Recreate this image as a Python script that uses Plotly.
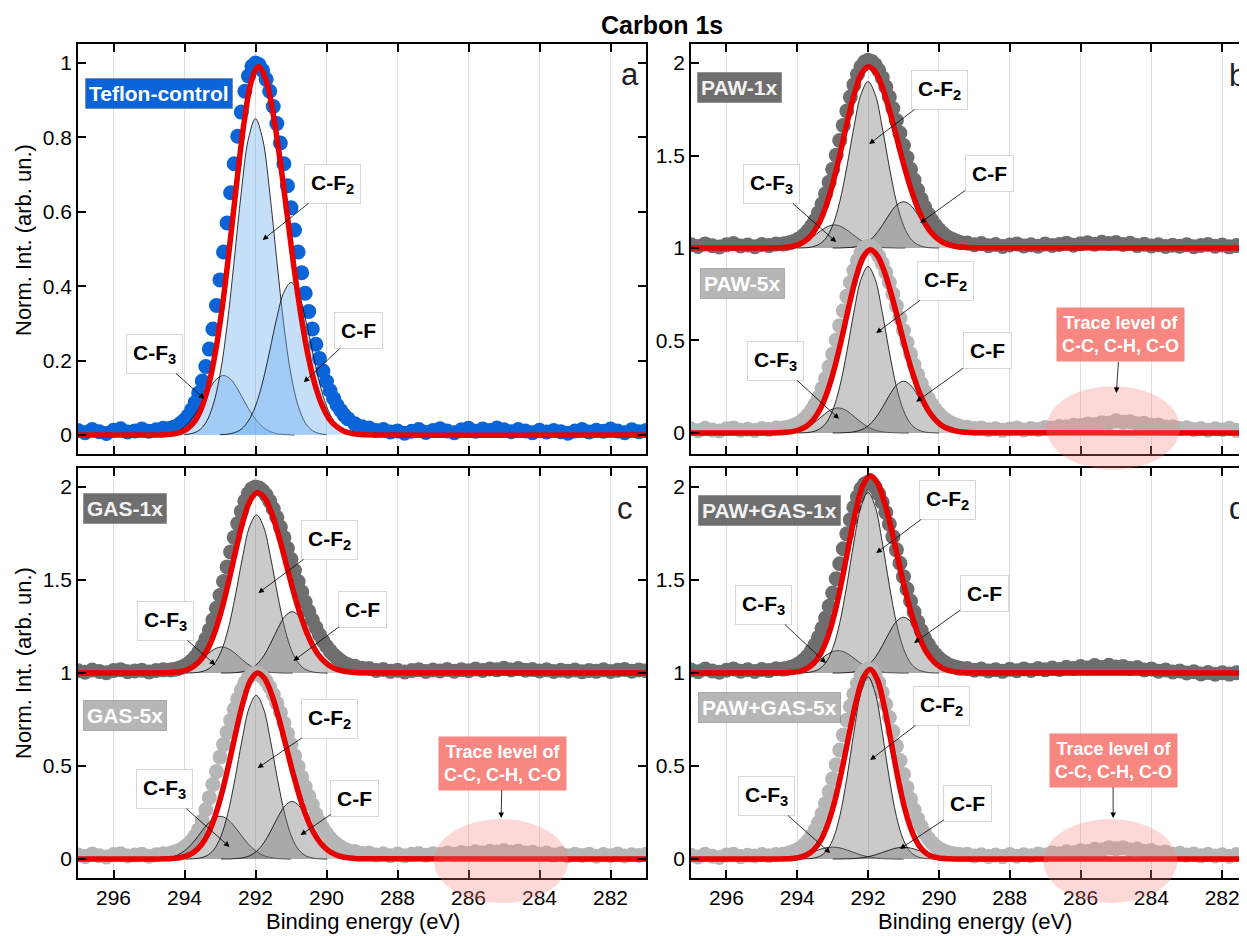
import plotly.graph_objects as go

# The page body adds an 8 px margin, so the figure is sized to the visible area
PAGE_OFF = 8
FW, FH = 1247 - PAGE_OFF, 936 - PAGE_OFF
FONT = "Arial, Liberation Sans, sans-serif"


def px_x(X):
    return (X - PAGE_OFF) / FW


def px_y(Y):
    return 1 - (Y - PAGE_OFF) / FH


# ------------------------------------------------------------------
# DATA
# Measured spectra: three segments per spectrum
#   *_BASE_L : 297.0 -> 294.6 eV, 0.2 eV step
#   *_PEAK   : 294.4 -> 289.4 eV, 0.1 eV step
#   *_BASE_R : 289.2 -> 281.0 eV, 0.2 eV step
# ------------------------------------------------------------------
TICK_E = [296, 294, 292, 290, 288, 286, 284, 282]
TICK_E_TEXT = ["296", "294", "292", "290", "288", "286", "284", "282"]
Y_TICKS_A = [0, 0.2, 0.4, 0.6, 0.8, 1]
Y_TICKS_A_TEXT = ["0", "0.2", "0.4", "0.6", "0.8", "1"]
Y_TICKS_BCD = [0, 0.5, 1, 1.5, 2]
Y_TICKS_BCD_TEXT = ["0", "0.5", "1", "1.5", "2"]

A_BASE_L = [0.012, 0.006, 0.015, 0.009, 0.004, 0.013, 0.017, 0.008, 0.011, 0.016, 0.010, 0.014, 0.018]
A_PEAK = [0.018, 0.021, 0.025, 0.032, 0.040, 0.052, 0.068, 0.087, 0.113, 0.145, 0.184, 0.231, 0.285,
          0.348, 0.417, 0.492, 0.570, 0.651, 0.729, 0.803, 0.868, 0.924, 0.965, 0.991, 1.000,
          0.995, 0.980, 0.956, 0.924, 0.883, 0.837, 0.785, 0.729, 0.670, 0.611, 0.551, 0.492, 0.436,
          0.381, 0.332, 0.285, 0.244, 0.206, 0.172, 0.144, 0.119, 0.098, 0.080, 0.066, 0.053, 0.044]
A_BASE_R = [0.030, 0.022, 0.019, 0.012, 0.015, 0.008, 0.011, 0.005, 0.010, 0.015, 0.007, 0.012, 0.017, 0.011,
            0.006, 0.014, 0.018, 0.010, 0.016, 0.012, 0.019, 0.014, 0.009, 0.015, 0.011, 0.006, 0.013, 0.008,
            0.012, 0.009, 0.005, 0.011, 0.015, 0.008, 0.013, 0.010, 0.016, 0.011, 0.006, 0.014, 0.009, 0.012]

B1_BASE_L = [1.018, 1.008, 1.022, 1.012, 1.005, 1.017, 1.024, 1.011, 1.016, 1.007, 1.019, 1.013, 1.021]
B1_PEAK = [1.021, 1.024, 1.029, 1.035, 1.044, 1.055, 1.071, 1.092, 1.118, 1.150, 1.190, 1.238, 1.293,
           1.356, 1.426, 1.502, 1.581, 1.662, 1.741, 1.816, 1.882, 1.938, 1.980, 2.006, 2.015,
           2.009, 1.991, 1.961, 1.921, 1.872, 1.816, 1.754, 1.689, 1.622, 1.554, 1.489, 1.426, 1.367,
           1.313, 1.264, 1.221, 1.183, 1.150, 1.123, 1.100, 1.081, 1.065, 1.053, 1.044, 1.036, 1.030]
B1_BASE_R = [1.027, 1.018, 1.024, 1.012, 1.019, 1.008, 1.016, 1.022, 1.011, 1.017, 1.009, 1.021, 1.014, 1.019,
             1.026, 1.015, 1.023, 1.028, 1.020, 1.031, 1.024, 1.029, 1.019, 1.025, 1.013, 1.020, 1.011, 1.017,
             1.008, 1.015, 1.010, 1.018, 1.007, 1.014, 1.019, 1.009, 1.016, 1.006, 1.013, 1.018, 1.010, 1.015]

B5_BASE_L = [0.021, 0.012, 0.025, 0.016, 0.010, 0.022, 0.027, 0.015, 0.020, 0.013, 0.024, 0.018, 0.026]
B5_PEAK = [0.026, 0.029, 0.033, 0.040, 0.048, 0.060, 0.076, 0.096, 0.122, 0.154, 0.193, 0.241, 0.295,
           0.358, 0.427, 0.502, 0.580, 0.661, 0.739, 0.813, 0.878, 0.934, 0.975, 1.001, 1.010,
           1.004, 0.986, 0.957, 0.917, 0.868, 0.813, 0.752, 0.687, 0.621, 0.554, 0.489, 0.427, 0.368,
           0.315, 0.267, 0.224, 0.186, 0.154, 0.127, 0.104, 0.085, 0.070, 0.058, 0.048, 0.041, 0.035]
B5_BASE_R = [0.031, 0.024, 0.027, 0.017, 0.023, 0.014, 0.021, 0.026, 0.016, 0.024, 0.019, 0.029, 0.027, 0.035,
             0.033, 0.041, 0.040, 0.048, 0.046, 0.055, 0.054, 0.066, 0.058, 0.060, 0.050, 0.052, 0.041, 0.043,
             0.032, 0.034, 0.024, 0.028, 0.018, 0.024, 0.015, 0.022, 0.017, 0.025, 0.014, 0.021, 0.016, 0.023]

C1_BASE_L = [1.012, 1.004, 1.016, 1.008, 1.002, 1.013, 1.018, 1.007, 1.011, 1.015, 1.006, 1.014, 1.017]
C1_PEAK = [1.016, 1.019, 1.023, 1.030, 1.038, 1.050, 1.066, 1.086, 1.112, 1.144, 1.183, 1.231, 1.285,
           1.348, 1.417, 1.492, 1.570, 1.651, 1.729, 1.803, 1.868, 1.924, 1.965, 1.991, 2.000,
           1.995, 1.980, 1.956, 1.924, 1.883, 1.837, 1.785, 1.729, 1.670, 1.611, 1.551, 1.492, 1.436,
           1.381, 1.332, 1.285, 1.244, 1.206, 1.172, 1.144, 1.119, 1.098, 1.080, 1.066, 1.053, 1.044]
C1_BASE_R = [1.036, 1.026, 1.024, 1.014, 1.019, 1.009, 1.015, 1.006, 1.013, 1.018, 1.008, 1.016, 1.011, 1.019,
             1.010, 1.018, 1.012, 1.021, 1.014, 1.022, 1.017, 1.026, 1.016, 1.024, 1.015, 1.019, 1.011, 1.017,
             1.008, 1.015, 1.010, 1.016, 1.007, 1.014, 1.009, 1.017, 1.008, 1.015, 1.019, 1.010, 1.016, 1.012]

C5_BASE_L = [0.022, 0.013, 0.027, 0.018, 0.011, 0.024, 0.029, 0.016, 0.021, 0.026, 0.015, 0.023, 0.028]
C5_PEAK = [0.031, 0.036, 0.042, 0.051, 0.063, 0.078, 0.098, 0.125, 0.158, 0.205, 0.265, 0.330, 0.400,
           0.470, 0.548, 0.615, 0.681, 0.744, 0.805, 0.860, 0.908, 0.947, 0.976, 0.994, 1.000,
           0.995, 0.980, 0.957, 0.925, 0.884, 0.838, 0.787, 0.731, 0.674, 0.615, 0.555, 0.497, 0.441,
           0.388, 0.339, 0.292, 0.240, 0.200, 0.167, 0.138, 0.113, 0.093, 0.077, 0.064, 0.054, 0.046]
C5_BASE_R = [0.040, 0.031, 0.033, 0.022, 0.028, 0.018, 0.027, 0.017, 0.025, 0.030, 0.020, 0.029, 0.024, 0.032,
             0.026, 0.035, 0.030, 0.039, 0.033, 0.042, 0.038, 0.046, 0.037, 0.043, 0.032, 0.037, 0.026, 0.032,
             0.021, 0.028, 0.017, 0.025, 0.019, 0.026, 0.015, 0.024, 0.018, 0.027, 0.016, 0.023, 0.019, 0.025]

D1_BASE_L = [1.016, 1.007, 1.021, 1.011, 1.004, 1.015, 1.022, 1.010, 1.017, 1.008, 1.019, 1.013, 1.023]
D1_PEAK = [1.021, 1.024, 1.029, 1.035, 1.044, 1.056, 1.072, 1.092, 1.119, 1.151, 1.192, 1.240, 1.296,
           1.359, 1.430, 1.507, 1.587, 1.668, 1.748, 1.824, 1.891, 1.947, 1.990, 2.016, 2.025,
           2.018, 1.997, 1.963, 1.918, 1.863, 1.801, 1.733, 1.662, 1.590, 1.518, 1.451, 1.387, 1.328,
           1.275, 1.228, 1.187, 1.153, 1.123, 1.100, 1.080, 1.064, 1.052, 1.042, 1.035, 1.030, 1.025]
D1_BASE_R = [1.024, 1.015, 1.021, 1.011, 1.018, 1.009, 1.020, 1.012, 1.022, 1.014, 1.024, 1.017, 1.027, 1.019,
             1.031, 1.024, 1.035, 1.027, 1.040, 1.030, 1.041, 1.032, 1.035, 1.024, 1.029, 1.016, 1.022, 1.010,
             1.016, 1.005, 1.011, 1.000, 1.007, 0.995, 1.003, 0.993, 1.001, 0.994, 1.002, 0.992, 1.000, 0.995]

D5_BASE_L = [0.020, 0.011, 0.025, 0.015, 0.008, 0.021, 0.026, 0.013, 0.020, 0.016, 0.024, 0.018, 0.024]
D5_PEAK = [0.026, 0.029, 0.034, 0.040, 0.049, 0.060, 0.076, 0.097, 0.123, 0.155, 0.195, 0.243, 0.298,
           0.361, 0.431, 0.507, 0.586, 0.667, 0.746, 0.821, 0.887, 0.943, 0.985, 1.011, 1.020,
           1.012, 0.987, 0.948, 0.895, 0.832, 0.761, 0.685, 0.607, 0.529, 0.455, 0.385, 0.322, 0.265,
           0.216, 0.174, 0.139, 0.111, 0.088, 0.070, 0.056, 0.046, 0.038, 0.033, 0.029, 0.026, 0.024]
D5_BASE_R = [0.025, 0.016, 0.023, 0.014, 0.021, 0.013, 0.024, 0.015, 0.023, 0.018, 0.027, 0.022, 0.033, 0.028,
             0.039, 0.034, 0.045, 0.041, 0.052, 0.048, 0.060, 0.055, 0.061, 0.050, 0.054, 0.042, 0.046, 0.034,
             0.038, 0.026, 0.031, 0.021, 0.027, 0.017, 0.025, 0.016, 0.023, 0.015, 0.024, 0.014, 0.022, 0.017]

# Fitted components: 21 values from (center + 2.0 eV) down to (center - 2.0 eV), 0.2 eV step
A_CF3 = [0.000, 0.001, 0.002, 0.006, 0.015, 0.031, 0.056, 0.088, 0.123, 0.150, 0.160,
         0.150, 0.123, 0.088, 0.056, 0.031, 0.015, 0.006, 0.002, 0.001, 0.000]
A_CF2 = [0.001, 0.004, 0.012, 0.033, 0.079, 0.162, 0.295, 0.469, 0.653, 0.796, 0.850,
         0.796, 0.653, 0.469, 0.295, 0.162, 0.079, 0.033, 0.012, 0.004, 0.001]
A_CF = [0.001, 0.002, 0.006, 0.016, 0.038, 0.078, 0.142, 0.226, 0.315, 0.384, 0.410,
        0.384, 0.315, 0.226, 0.142, 0.078, 0.038, 0.016, 0.006, 0.002, 0.001]
B1_CF3 = [0.000, 0.000, 0.001, 0.002, 0.007, 0.017, 0.035, 0.061, 0.091, 0.115, 0.125,
          0.115, 0.091, 0.061, 0.035, 0.017, 0.007, 0.002, 0.001, 0.000, 0.000]
B1_CF2 = [0.000, 0.001, 0.005, 0.018, 0.050, 0.122, 0.250, 0.438, 0.653, 0.831, 0.900,
          0.831, 0.653, 0.438, 0.250, 0.122, 0.050, 0.018, 0.005, 0.001, 0.000]
B1_CF = [0.000, 0.000, 0.002, 0.005, 0.014, 0.034, 0.070, 0.122, 0.182, 0.231, 0.250,
         0.231, 0.182, 0.122, 0.070, 0.034, 0.014, 0.005, 0.002, 0.000, 0.000]
B5_CF3 = [0.000, 0.000, 0.001, 0.003, 0.008, 0.018, 0.038, 0.066, 0.098, 0.125, 0.135,
          0.125, 0.098, 0.066, 0.038, 0.018, 0.008, 0.003, 0.001, 0.000, 0.000]
B5_CF2 = [0.000, 0.001, 0.005, 0.018, 0.050, 0.122, 0.250, 0.438, 0.653, 0.831, 0.900,
          0.831, 0.653, 0.438, 0.250, 0.122, 0.050, 0.018, 0.005, 0.001, 0.000]
B5_CF = [0.000, 0.000, 0.002, 0.006, 0.016, 0.038, 0.078, 0.136, 0.203, 0.258, 0.280,
         0.258, 0.203, 0.136, 0.078, 0.038, 0.016, 0.006, 0.002, 0.000, 0.000]
C1_CF3 = [0.000, 0.000, 0.001, 0.003, 0.008, 0.019, 0.039, 0.068, 0.102, 0.129, 0.140,
          0.129, 0.102, 0.068, 0.039, 0.019, 0.008, 0.003, 0.001, 0.000, 0.000]
C1_CF2 = [0.000, 0.001, 0.005, 0.017, 0.048, 0.115, 0.236, 0.414, 0.617, 0.785, 0.850,
          0.785, 0.617, 0.414, 0.236, 0.115, 0.048, 0.017, 0.005, 0.001, 0.000]
C1_CF = [0.000, 0.000, 0.002, 0.007, 0.018, 0.045, 0.092, 0.161, 0.240, 0.305, 0.330,
         0.305, 0.240, 0.161, 0.092, 0.045, 0.018, 0.007, 0.002, 0.000, 0.000]
C5_CF3 = [0.000, 0.001, 0.003, 0.009, 0.021, 0.044, 0.080, 0.127, 0.177, 0.215, 0.230,
          0.215, 0.177, 0.127, 0.080, 0.044, 0.021, 0.009, 0.003, 0.001, 0.000]
C5_CF2 = [0.000, 0.001, 0.005, 0.017, 0.049, 0.119, 0.245, 0.429, 0.639, 0.812, 0.880,
          0.812, 0.639, 0.429, 0.245, 0.119, 0.049, 0.017, 0.005, 0.001, 0.000]
C5_CF = [0.000, 0.000, 0.002, 0.006, 0.017, 0.042, 0.086, 0.151, 0.225, 0.286, 0.310,
         0.286, 0.225, 0.151, 0.086, 0.042, 0.017, 0.006, 0.002, 0.000, 0.000]
D1_CF3 = [0.000, 0.000, 0.001, 0.002, 0.007, 0.016, 0.033, 0.058, 0.087, 0.111, 0.120,
          0.111, 0.087, 0.058, 0.033, 0.016, 0.007, 0.002, 0.001, 0.000, 0.000]
D1_CF2 = [0.000, 0.001, 0.006, 0.019, 0.054, 0.131, 0.270, 0.472, 0.704, 0.895, 0.970,
          0.895, 0.704, 0.472, 0.270, 0.131, 0.054, 0.019, 0.006, 0.001, 0.000]
D1_CF = [0.000, 0.000, 0.002, 0.006, 0.017, 0.041, 0.083, 0.146, 0.218, 0.277, 0.300,
         0.277, 0.218, 0.146, 0.083, 0.041, 0.017, 0.006, 0.002, 0.000, 0.000]
D5_CF3 = [0.000, 0.000, 0.001, 0.002, 0.006, 0.012, 0.022, 0.035, 0.049, 0.060, 0.064,
          0.060, 0.049, 0.035, 0.022, 0.012, 0.006, 0.002, 0.001, 0.000, 0.000]
D5_CF2 = [0.000, 0.001, 0.003, 0.012, 0.038, 0.102, 0.230, 0.434, 0.682, 0.895, 0.980,
          0.895, 0.682, 0.434, 0.230, 0.102, 0.038, 0.012, 0.003, 0.001, 0.000]
D5_CF = [0.000, 0.000, 0.001, 0.002, 0.006, 0.012, 0.022, 0.035, 0.048, 0.059, 0.063,
         0.059, 0.048, 0.035, 0.022, 0.012, 0.006, 0.002, 0.001, 0.000, 0.000]

# component centres (eV): CF3, CF2, CF
A_CENTERS = [292.9, 292.0, 291.0]
B1_CENTERS = [292.95, 292.0, 291.0]
B5_CENTERS = [292.85, 292.0, 291.0]
C1_CENTERS = [292.95, 291.97, 290.97]
C5_CENTERS = [293.0, 291.98, 290.97]
D1_CENTERS = [292.85, 292.0, 291.0]
D5_CENTERS = [293.0, 292.0, 291.0]

# Fit envelopes: 31 values from (center + 3.0 eV) down to (center - 3.0 eV), 0.2 eV step
A_ENV = [0.000, 0.000, 0.001, 0.003, 0.007, 0.017, 0.036, 0.073, 0.134, 0.228, 0.356, 0.515, 0.686, 0.841, 0.950,
         0.990, 0.959, 0.873, 0.747, 0.601, 0.453, 0.322, 0.214, 0.134, 0.079, 0.043, 0.023, 0.011, 0.005, 0.002, 0.001]
B1_ENV = [0.000, 0.000, 0.001, 0.003, 0.007, 0.017, 0.036, 0.072, 0.132, 0.225, 0.353, 0.510, 0.679, 0.832, 0.941,
          0.980, 0.950, 0.864, 0.740, 0.595, 0.449, 0.319, 0.212, 0.132, 0.078, 0.043, 0.022, 0.011, 0.005, 0.002, 0.001]
B5_ENV = [0.000, 0.000, 0.001, 0.003, 0.007, 0.017, 0.036, 0.073, 0.134, 0.228, 0.356, 0.515, 0.686, 0.841, 0.950,
          0.990, 0.959, 0.873, 0.747, 0.601, 0.453, 0.322, 0.214, 0.134, 0.079, 0.043, 0.023, 0.011, 0.005, 0.002, 0.001]
C1_ENV = [0.000, 0.000, 0.001, 0.003, 0.007, 0.016, 0.036, 0.071, 0.131, 0.223, 0.349, 0.504, 0.672, 0.824, 0.931,
          0.970, 0.940, 0.856, 0.732, 0.589, 0.444, 0.315, 0.210, 0.131, 0.077, 0.043, 0.022, 0.011, 0.005, 0.002, 0.001]
C5_ENV = [0.000, 0.000, 0.001, 0.003, 0.007, 0.017, 0.037, 0.073, 0.135, 0.230, 0.360, 0.520, 0.693, 0.849, 0.960,
          1.000, 0.969, 0.882, 0.755, 0.607, 0.458, 0.325, 0.216, 0.135, 0.080, 0.044, 0.023, 0.011, 0.005, 0.002, 0.001]
D1_ENV = [0.000, 0.000, 0.000, 0.001, 0.004, 0.009, 0.023, 0.051, 0.104, 0.193, 0.324, 0.497, 0.692, 0.877, 1.011,
          1.060, 1.023, 0.919, 0.770, 0.600, 0.436, 0.295, 0.186, 0.109, 0.060, 0.030, 0.014, 0.006, 0.003, 0.001, 0.000]
D5_ENV = [0.000, 0.000, 0.000, 0.001, 0.003, 0.009, 0.022, 0.049, 0.100, 0.186, 0.312, 0.478, 0.666, 0.844, 0.973,
          1.020, 0.965, 0.817, 0.619, 0.419, 0.254, 0.138, 0.067, 0.029, 0.011, 0.004, 0.001, 0.000, 0.000, 0.000, 0.000]
ENV_CENTERS = {"A": 291.92, "B1": 291.99, "B5": 291.94, "C1": 291.94, "C5": 291.94, "D1": 291.94, "D5": 291.94}

SAMPLE_NAMES = {"A": "Teflon-control", "B1": "PAW-1x", "B5": "PAW-5x", "C1": "GAS-1x", "C5": "GAS-5x",
                "D1": "PAW+GAS-1x", "D5": "PAW+GAS-5x"}
OFFSETS = {"A": 0, "B1": 1, "B5": 0, "C1": 1, "C5": 0, "D1": 1, "D5": 0}

# ------------------------------------------------------------------
# LAYOUT / STYLE
# ------------------------------------------------------------------
PANELS = {
    "a": dict(xa="x", ya="y", xdom=[px_x(78), px_x(646)], ydom=[px_y(454), px_y(44)],
              xr=[297.0, 281.0], yr=[-0.051, 1.051], right=False, bottom=False),
    "b": dict(xa="x2", ya="y2", xdom=[px_x(691), 1.0], ydom=[px_y(454), px_y(44)],
              xr=[297.0, 281.3], yr=[-0.114, 2.103], right=True, bottom=False),
    "c": dict(xa="x3", ya="y3", xdom=[px_x(78), px_x(646)], ydom=[px_y(878), px_y(468)],
              xr=[297.0, 281.0], yr=[-0.102, 2.102], right=False, bottom=True),
    "d": dict(xa="x4", ya="y4", xdom=[px_x(691), 1.0], ydom=[px_y(878), px_y(468)],
              xr=[297.0, 281.3], yr=[-0.102, 2.102], right=True, bottom=True),
}

BLUE = "#0a64d8"
DARK = "#6e6e6e"
LIGHT = "#b6b6b6"
RED = "#e60000"
BLUE_FILL = "rgba(110,176,240,0.40)"
GREY_FILL = "rgba(115,115,115,0.38)"

SPECTRA = [
    dict(key="A", panel="a", color=BLUE, box=BLUE, boxtext="white", fill=BLUE_FILL,
         data=(A_BASE_L, A_PEAK, A_BASE_R), comps=(A_CF3, A_CF2, A_CF), centers=A_CENTERS, env=A_ENV,
         label_pos=(294.71, 0.917), cf2=((289.82, 0.675), (291.80, 0.524)),
         cf=((289.09, 0.28), (290.64, 0.142)), cf3=((294.85, 0.218), (293.44, 0.097)), trace=None),
    dict(key="B1", panel="b", color=DARK, box=DARK, boxtext="#f2f2f2", fill=GREY_FILL,
         data=(B1_BASE_L, B1_PEAK, B1_BASE_R), comps=(B1_CF3, B1_CF2, B1_CF), centers=B1_CENTERS, env=B1_ENV,
         label_pos=(295.62, 1.87), cf2=((289.97, 1.854), (291.97, 1.562)),
         cf=((288.58, 1.405), (290.53, 1.135)), cf3=((294.74, 1.346), (292.90, 1.032)), trace=None),
    dict(key="B5", panel="b", color=LIGHT, box=LIGHT, boxtext="white", fill=GREY_FILL,
         data=(B5_BASE_L, B5_PEAK, B5_BASE_R), comps=(B5_CF3, B5_CF2, B5_CF), centers=B5_CENTERS, env=B5_ENV,
         label_pos=(295.56, 0.81), cf2=((289.80, 0.822), (291.77, 0.54)),
         cf=((288.64, 0.443), (290.64, 0.168)), cf3=((294.60, 0.389), (292.82, 0.076)),
         trace=((284.88, 0.53), (284.99, 0.216), (285.08, 0.027))),
    dict(key="C1", panel="c", color=DARK, box=DARK, boxtext="#f2f2f2", fill=GREY_FILL,
         data=(C1_BASE_L, C1_PEAK, C1_BASE_R), comps=(C1_CF3, C1_CF2, C1_CF), centers=C1_CENTERS, env=C1_ENV,
         label_pos=(295.67, 1.882), cf2=((289.91, 1.715), (291.92, 1.43)),
         cf=((288.98, 1.344), (290.93, 1.065)), cf3=((294.54, 1.28), (293.13, 1.043)), trace=None),
    dict(key="C5", panel="c", color=LIGHT, box=LIGHT, boxtext="white", fill=GREY_FILL,
         data=(C5_BASE_L, C5_PEAK, C5_BASE_R), comps=(C5_CF3, C5_CF2, C5_CF), centers=C5_CENTERS, env=C5_ENV,
         label_pos=(295.67, 0.774), cf2=((289.91, 0.753), (291.94, 0.489)),
         cf=((289.20, 0.328), (290.73, 0.129)), cf3=((294.57, 0.376), (292.73, 0.065)),
         trace=((285.05, 0.516), (285.08, 0.22), (285.08, -0.011))),
    dict(key="D1", panel="d", color=DARK, box=DARK, boxtext="#f2f2f2", fill=GREY_FILL,
         data=(D1_BASE_L, D1_PEAK, D1_BASE_R), comps=(D1_CF3, D1_CF2, D1_CF), centers=D1_CENTERS, env=D1_ENV,
         label_pos=(294.77, 1.871), cf2=((289.77, 1.93), (291.77, 1.645)),
         cf=((288.72, 1.43), (290.70, 1.161)), cf3=((294.94, 1.366), (293.19, 1.054)), trace=None),
    dict(key="D5", panel="d", color=LIGHT, box=LIGHT, boxtext="white", fill=GREY_FILL,
         data=(D5_BASE_L, D5_PEAK, D5_BASE_R), comps=(D5_CF3, D5_CF2, D5_CF), centers=D5_CENTERS, env=D5_ENV,
         label_pos=(294.77, 0.812), cf2=((289.94, 0.823), (291.94, 0.532)),
         cf=((289.18, 0.296), (291.10, 0.054)), cf3=((294.88, 0.339), (293.07, 0.032)),
         trace=((285.08, 0.532), (285.08, 0.22), (285.16, -0.011))),
]


def energies(start, step, n):
    return [round(start - step * i, 3) for i in range(n)]


fig = go.Figure()
annotations = []
shapes = []


def to_paper(panel, e, v):
    p = PANELS[panel]
    fx = (e - p["xr"][0]) / (p["xr"][1] - p["xr"][0])
    fy = (v - p["yr"][0]) / (p["yr"][1] - p["yr"][0])
    return (p["xdom"][0] + fx * (p["xdom"][1] - p["xdom"][0]),
            p["ydom"][0] + fy * (p["ydom"][1] - p["ydom"][0]))


for s in SPECTRA:
    p = PANELS[s["panel"]]
    off = OFFSETS[s["key"]]
    bl, pk, br = s["data"]
    xd = energies(297.0, 0.2, len(bl)) + energies(294.4, 0.1, len(pk)) + energies(289.2, 0.2, len(br))
    yd = list(bl) + list(pk) + list(br)
    fig.add_trace(go.Scatter(x=xd, y=yd, mode="markers", xaxis=p["xa"], yaxis=p["ya"],
                             marker=dict(size=15, color=s["color"], line=dict(width=0)),
                             showlegend=False, hoverinfo="skip"))
    for comp, c in zip(s["comps"], s["centers"]):
        xc = energies(c + 2.0, 0.2, len(comp))
        yc = [off + v for v in comp]
        fig.add_trace(go.Scatter(x=xc, y=yc, mode="lines", xaxis=p["xa"], yaxis=p["ya"],
                                 fill="toself", fillcolor=s["fill"],
                                 line=dict(color="black", width=0.8, shape="spline"),
                                 showlegend=False, hoverinfo="skip"))
    ec = ENV_CENTERS[s["key"]]
    xe = [297.0] + energies(ec + 3.0, 0.2, len(s["env"])) + [281.0]
    ye = [off] + [off + v for v in s["env"]] + [off]
    fig.add_trace(go.Scatter(x=xe, y=ye, mode="lines", xaxis=p["xa"], yaxis=p["ya"],
                             line=dict(color=RED, width=5.5, shape="spline"),
                             showlegend=False, hoverinfo="skip"))

    # sample label
    annotations.append(dict(x=s["label_pos"][0], y=s["label_pos"][1], xref=p["xa"], yref=p["ya"],
                            xanchor="center", yanchor="middle",
                            text="<b>%s</b>" % SAMPLE_NAMES[s["key"]], showarrow=False,
                            font=dict(family=FONT, size=21, color=s["boxtext"]),
                            bgcolor=s["box"], bordercolor="rgba(80,80,80,0.35)", borderwidth=1, borderpad=3))
    # component labels
    for txt, (lab, head) in (("C-F<sub>2</sub>", s["cf2"]), ("C-F", s["cf"]), ("C-F<sub>3</sub>", s["cf3"])):
        annotations.append(dict(x=head[0], y=head[1], ax=lab[0], ay=lab[1], xref=p["xa"], yref=p["ya"],
                                axref=p["xa"], ayref=p["ya"], text="<b>%s</b>" % txt, showarrow=True,
                                arrowhead=2, arrowsize=1.4, arrowwidth=0.8, arrowcolor="black",
                                font=dict(family=FONT, size=21, color="black"),
                                bgcolor="white", bordercolor="#d6d6d6", borderwidth=1, borderpad=6))
    if s["trace"]:
        lab, head, cen = s["trace"]
        annotations.append(dict(x=head[0], y=head[1], ax=lab[0], ay=lab[1], xref=p["xa"], yref=p["ya"],
                                axref=p["xa"], ayref=p["ya"],
                                text="<b>Trace level of<br>C-C, C-H, C-O</b>", showarrow=True,
                                arrowhead=2, arrowsize=1.4, arrowwidth=0.8, arrowcolor="black",
                                font=dict(family=FONT, size=18, color="white"),
                                bgcolor="rgba(246,118,110,0.88)", borderpad=5, align="center"))
        x0, y0 = to_paper(s["panel"], cen[0] + 1.89, cen[1] - 0.226)
        x1, y1 = to_paper(s["panel"], cen[0] - 1.89, cen[1] + 0.226)
        shapes.append(dict(type="circle", xref="paper", yref="paper", x0=x0, x1=x1, y0=y0, y1=y1,
                           fillcolor="rgba(245,128,122,0.30)", line=dict(width=0), layer="above"))

# panel letters
for letter, (e, v) in {"a": (281.46, 0.968), "b": (281.56, 1.935), "c": (281.6, 1.887), "d": (281.56, 1.887)}.items():
    p = PANELS[letter]
    annotations.append(dict(x=e, y=v, xref=p["xa"], yref=p["ya"], text=letter, showarrow=False,
                            xanchor="center", yanchor="middle",
                            font=dict(family=FONT, size=31, color="#222222")))

# titles
annotations.append(dict(x=px_x(662), y=px_y(25), xref="paper", yref="paper", text="<b>Carbon 1s</b>",
                        xanchor="center", yanchor="middle",
                        showarrow=False, font=dict(family=FONT, size=25, color="black")))
for Y in (240, 663):
    annotations.append(dict(x=px_x(23), y=px_y(Y), xref="paper", yref="paper", text="Norm. Int. (arb. un.)",
                            xanchor="center", yanchor="middle",
                            textangle=-90, showarrow=False, font=dict(family=FONT, size=22, color="black")))
for X in (363, 975):
    annotations.append(dict(x=px_x(X), y=px_y(921), xref="paper", yref="paper", text="Binding energy (eV)",
                            xanchor="center", yanchor="middle",
                            showarrow=False, font=dict(family=FONT, size=22, color="black")))

layout = dict(width=FW, height=FH, margin=dict(l=0, r=0, t=0, b=0), paper_bgcolor="white",
              plot_bgcolor="white", showlegend=False, annotations=annotations, shapes=shapes)

for name, p in PANELS.items():
    xkey = "xaxis" + p["xa"][1:]
    ykey = "yaxis" + p["ya"][1:]
    yt = Y_TICKS_A if name == "a" else Y_TICKS_BCD
    ytt = Y_TICKS_A_TEXT if name == "a" else Y_TICKS_BCD_TEXT
    layout[xkey] = dict(domain=p["xdom"], range=p["xr"], anchor=p["ya"], tickmode="array",
                        tickvals=TICK_E, ticktext=TICK_E_TEXT, showticklabels=p["bottom"],
                        ticks="inside", ticklen=8, tickwidth=1.5, tickcolor="black",
                        showline=True, linecolor="black", linewidth=1.8, mirror="ticks",
                        showgrid=True, gridcolor="#dddddd", gridwidth=1, zeroline=False,
                        automargin=False, tickfont=dict(family=FONT, size=21, color="black"))
    layout[ykey] = dict(domain=p["ydom"], range=p["yr"], anchor=p["xa"], tickmode="array",
                        tickvals=yt, ticktext=ytt, ticks="inside", ticklen=8, tickwidth=1.5,
                        tickcolor="black", showline=True, linecolor="black", linewidth=1.8,
                        mirror=False if p["right"] else "ticks", showgrid=False, zeroline=False,
                        automargin=False, tickfont=dict(family=FONT, size=21, color="black"))

fig.update_layout(**layout)
fig.write_html("out.html")
